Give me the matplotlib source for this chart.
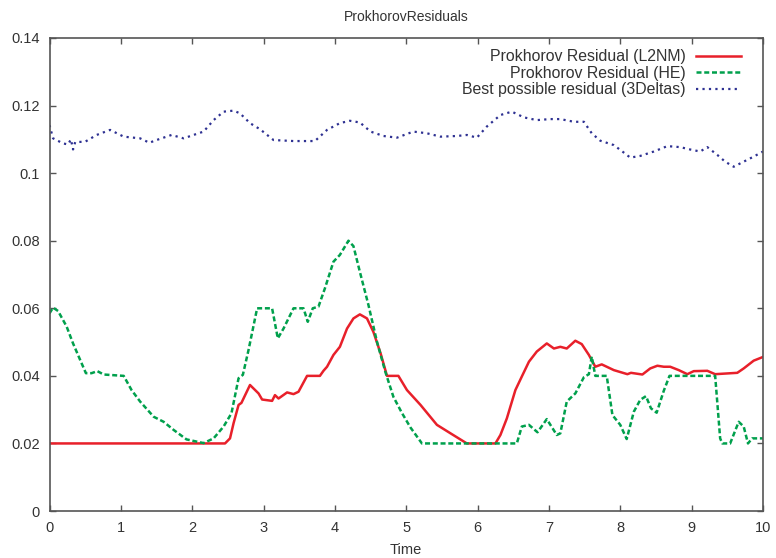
import matplotlib
matplotlib.use("Agg")
import matplotlib.pyplot as plt

plt.rcParams['font.family'] = ['Liberation Sans', 'DejaVu Sans']

title = "ProkhorovResiduals"
xlabel = "Time"
labels = ["Prokhorov Residual (L2NM)", "Prokhorov Residual (HE)", "Best possible residual (3Deltas)"]
xticks = [0, 1, 2, 3, 4, 5, 6, 7, 8, 9, 10]
yticks = [0, 0.02, 0.04, 0.06, 0.08, 0.1, 0.12, 0.14]
ytick_labels = ["0", "0.02", "0.04", "0.06", "0.08", "0.1", "0.12", "0.14"]

l2nm_x = [0.0, 2.46, 2.53, 2.58, 2.65, 2.69, 2.81, 2.93, 2.98, 3.12, 3.16, 3.21, 3.33, 3.42, 3.49,
          3.61, 3.79, 3.84, 3.89, 3.98, 4.07, 4.17, 4.26, 4.35, 4.45, 4.54, 4.64, 4.73, 4.89, 5.01,
          5.20, 5.43, 5.62, 5.85, 6.25, 6.32, 6.41, 6.53, 6.62, 6.72, 6.83, 6.97, 7.07, 7.16, 7.25,
          7.37, 7.46, 7.56, 7.65, 7.74, 7.91, 8.10, 8.15, 8.31, 8.42, 8.52, 8.61, 8.70, 8.82, 8.94,
          9.03, 9.22, 9.33, 9.64, 9.73, 9.87, 10.0]
l2nm_y = [0.020, 0.020, 0.0215, 0.026, 0.0314, 0.032, 0.0373, 0.0348, 0.033, 0.0326, 0.0343, 0.0333, 0.0351, 0.0346, 0.0353,
          0.040, 0.040, 0.0415, 0.0427, 0.0462, 0.0486, 0.054, 0.057, 0.0582, 0.057, 0.053, 0.0467, 0.040, 0.040, 0.0358,
          0.0314, 0.0255, 0.023, 0.020, 0.020, 0.0225, 0.0274, 0.0358, 0.0398, 0.0442, 0.0472, 0.0496, 0.0481, 0.0486, 0.0481,
          0.0504, 0.0494, 0.0462, 0.0427, 0.0434, 0.0417, 0.0405, 0.0409, 0.0404, 0.0422, 0.043, 0.0427, 0.0427, 0.0417, 0.0405,
          0.0414, 0.0415, 0.0405, 0.0409, 0.0422, 0.0445, 0.0456]

he_x = [0.0, 0.05, 0.12, 0.24, 0.33, 0.43, 0.51, 0.59, 0.67, 0.76, 1.04, 1.15, 1.27, 1.46, 1.60,
        1.74, 1.92, 2.16, 2.30, 2.44, 2.55, 2.65, 2.71, 2.79, 2.91, 3.12, 3.20, 3.28, 3.42, 3.56,
        3.62, 3.69, 3.77, 3.86, 3.98, 4.07, 4.19, 4.26, 4.35, 4.47, 4.59, 4.71, 4.82, 4.94, 5.06,
        5.22, 6.55, 6.62, 6.72, 6.84, 6.97, 7.11, 7.16, 7.25, 7.37, 7.49, 7.56, 7.60, 7.65, 7.81,
        7.89, 8.00, 8.09, 8.19, 8.28, 8.36, 8.43, 8.51, 8.61, 8.69, 9.33, 9.40, 9.43, 9.54, 9.66,
        9.73, 9.79, 9.85, 10.0]
he_y = [0.0585, 0.0602, 0.0592, 0.0546, 0.0496, 0.0447, 0.0408, 0.0408, 0.0414, 0.0404, 0.040, 0.0358, 0.0324, 0.0279, 0.0264,
        0.024, 0.0212, 0.0201, 0.0215, 0.025, 0.0289, 0.0393, 0.0403, 0.0477, 0.060, 0.060, 0.0511, 0.054, 0.060, 0.060,
        0.056, 0.060, 0.0605, 0.0659, 0.0738, 0.0758, 0.080, 0.0784, 0.0708, 0.061, 0.0501, 0.041, 0.0338, 0.029, 0.0247,
        0.020, 0.020, 0.025, 0.0255, 0.0233, 0.0272, 0.0225, 0.023, 0.0324, 0.0348, 0.0396, 0.0405, 0.0457, 0.040, 0.040,
        0.0284, 0.0255, 0.0213, 0.0294, 0.0329, 0.034, 0.0304, 0.0291, 0.0356, 0.040, 0.040, 0.0215, 0.020, 0.020, 0.0264,
        0.025, 0.020, 0.0215, 0.0215]

best_x = [0.0, 0.05, 0.19, 0.26, 0.30, 0.33, 0.36, 0.50, 0.66, 0.85, 1.04, 1.27, 1.40, 1.50, 1.71,
          1.88, 2.06, 2.16, 2.30, 2.44, 2.58, 2.67, 2.81, 2.95, 3.14, 3.42, 3.72, 3.89, 4.07, 4.21,
          4.35, 4.50, 4.68, 4.87, 5.01, 5.10, 5.29, 5.48, 5.71, 5.85, 5.99, 6.13, 6.32, 6.48, 6.65,
          6.83, 7.02, 7.16, 7.35, 7.49, 7.60, 7.72, 7.91, 8.03, 8.14, 8.28, 8.47, 8.66, 8.84, 8.98,
          9.12, 9.22, 9.36, 9.47, 9.59, 9.73, 9.87, 10.0]
best_y = [0.1142, 0.1103, 0.1088, 0.1085, 0.110, 0.107, 0.1092, 0.1093, 0.1113, 0.1128, 0.1108, 0.1103, 0.1090, 0.1098, 0.1113,
          0.1103, 0.1116, 0.1123, 0.1157, 0.1182, 0.1185, 0.1177, 0.1148, 0.113, 0.1098, 0.1095, 0.1095, 0.1128, 0.1148, 0.1155,
          0.115, 0.1123, 0.111, 0.1105, 0.1116, 0.1123, 0.1118, 0.1108, 0.111, 0.1113, 0.1105, 0.1138, 0.1172, 0.1182, 0.1165,
          0.1157, 0.116, 0.116, 0.1152, 0.1152, 0.1118, 0.1096, 0.1083, 0.1064, 0.1046, 0.1051, 0.1064, 0.108, 0.1077, 0.107,
          0.1064, 0.1077, 0.1054, 0.1034, 0.1019, 0.1034, 0.1049, 0.1064]

fig = plt.figure(figsize=(7.76, 5.58), dpi=100)
ax = fig.add_axes([0.0638, 0.0842, 0.9194, 0.8477])

ax.plot(l2nm_x, l2nm_y, color='#e8202a', lw=1.8, label=labels[0])
ax.plot(he_x, he_y, color='#00a04c', lw=1.8, dashes=(2.0, 1.1), label=labels[1])
ax.plot(best_x, best_y, color='#2e3192', lw=1.6, dashes=(1.0, 1.9), label=labels[2])

ax.set_xlim(0, 10)
ax.set_ylim(0, 0.14)
ax.set_xticks(xticks)
ax.set_xticklabels([str(v) for v in xticks])
ax.set_yticks(yticks)
ax.set_yticklabels(ytick_labels)
ax.tick_params(direction='in', top=True, right=True, length=4.5, width=1, color='#555555',
               labelsize=10.5, labelcolor='#333333')
ax.tick_params(axis='y', pad=7)
ax.tick_params(axis='x', pad=7)
for s in ax.spines.values():
    s.set_color('#555555')
    s.set_linewidth(1.2)

ax.set_title(title, fontsize=10, color='#333333', pad=12)
ax.set_xlabel(xlabel, fontsize=10.5, color='#333333', labelpad=6)

leg = ax.legend(loc='upper right', frameon=False, markerfirst=False, fontsize=11.4,
                handlelength=2.85, handletextpad=0.63, labelspacing=0.1,
                borderaxespad=0.3, borderpad=0.4, bbox_to_anchor=(0.985, 1.0))
for t in leg.get_texts():
    t.set_ha('right')
    t.set_color('#333333')
leg._legend_box.align = 'right'

fig.savefig('out.png', dpi=100)
